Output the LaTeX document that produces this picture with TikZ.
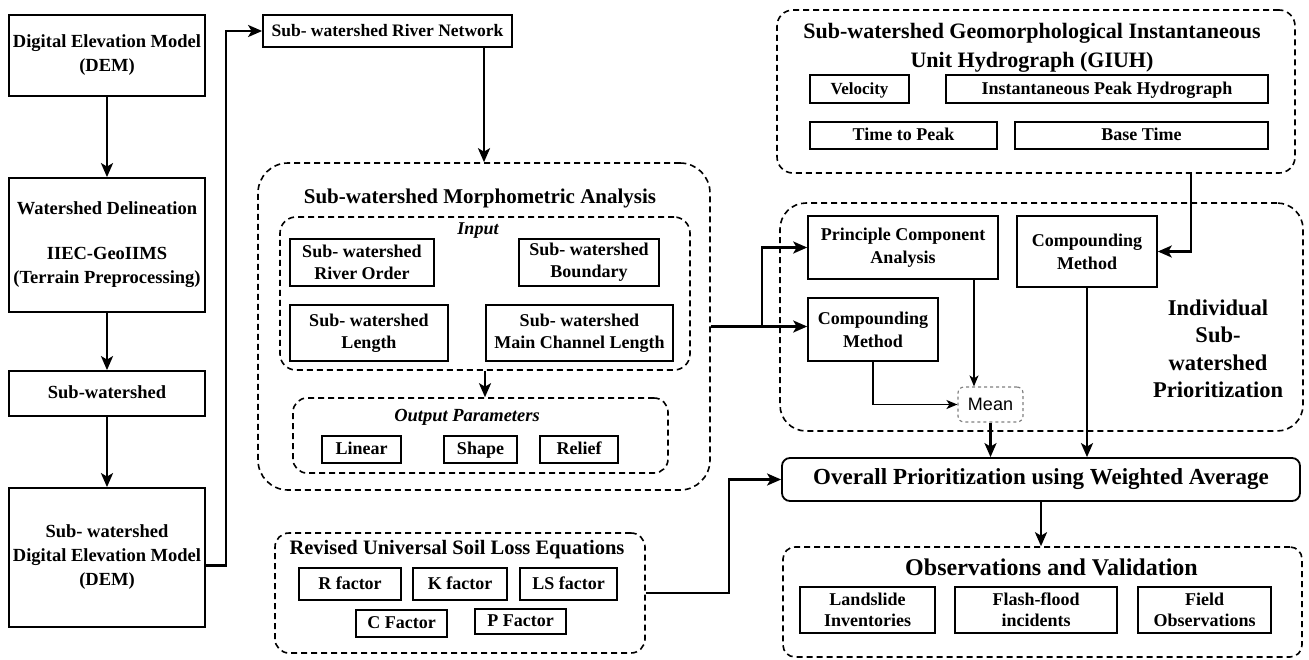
\documentclass[tikz,border=0pt]{standalone}
\usepackage{fontspec}
\setmainfont{Liberation Serif}
\newfontfamily\meanfont{Liberation Sans}
\usetikzlibrary{arrows.meta}
\usetikzlibrary{calc}

\begin{document}
\begin{tikzpicture}[x=1pt,y=-1pt,>={Stealth[length=14pt,width=12pt,inset=3.5pt]},
	box/.style={draw,line width=1.8pt,align=center,inner sep=0pt,font=\bfseries\fontsize{18.5}{24}\selectfont},
	small box/.style={draw,line width=1.3pt,align=center,inner sep=0pt,font=\bfseries\fontsize{18}{22}\selectfont},
	one line/.style={text height=13pt,text depth=3pt},
	group/.style={draw,line width=1.6pt,dash pattern=on 6pt off 4pt,rounded corners=#1,inner sep=0pt},
	group/.default=14pt,
	heading/.style={align=center,inner sep=0pt,font=\bfseries\fontsize{21}{27}\selectfont},
	flow/.style={->,line width=2.4pt},
	thin flow/.style={-{Stealth[length=11pt,width=9pt,inset=3pt]},line width=1.6pt}]

				\useasboundingbox (0,0) rectangle (1309,659);

				% left column
				\node[box,minimum width=196pt,minimum height=81pt] (dem) at (107,55.5) {Digital Elevation Model\\(DEM)};
				\node[box,minimum width=196pt,minimum height=134pt] (wsd) at (107,245) {Watershed Delineation\\[21pt]IIEC-GeoIIMS\\(Terrain Preprocessing)};
				\node[box,one line,minimum width=196pt,minimum height=45pt] (sub) at (107,393.5) {Sub-watershed};
				\node[box,minimum width=196pt,minimum height=139pt] (sdem) at (107,557.5) {Sub- watershed\\Digital Elevation Model\\(DEM)};
				\node[box,one line,minimum width=249pt,minimum height=32pt,font=\bfseries\fontsize{17.5}{21}\selectfont] (rn) at (387.5,31) {Sub- watershed River Network};

				% morphometric analysis
				\node[group=30pt,minimum width=452pt,minimum height=327pt] (morph) at (484,326.5) {};
				\node[heading] (morphT) at (480,198) {Sub-watershed Morphometric Analysis};
				\node[group=16pt,minimum width=410pt,minimum height=153pt] (inp) at (485,293.5) {};
				\node[heading,font=\bfseries\itshape\fontsize{18}{22}\selectfont] (inpT) at (478,231) {Input};
				\node[small box,minimum width=144pt,minimum height=47pt] (ro) at (362,262.5) {Sub- watershed\\River Order};
				\node[small box,minimum width=140pt,minimum height=47pt] (bd) at (589,262.5) {Sub- watershed\\Boundary};
				\node[small box,minimum width=158pt,minimum height=56pt] (len) at (369,333) {Sub- watershed\\Length};
				\node[small box,minimum width=187pt,minimum height=56pt] (mcl) at (579.5,333) {Sub- watershed\\Main Channel Length};
				\node[group=14pt,minimum width=375pt,minimum height=75pt] (outp) at (480.5,435.5) {};
				\node[heading,font=\bfseries\itshape\fontsize{18.5}{22}\selectfont] (outpT) at (467,417) {Output Parameters};
				\node[small box,one line,minimum width=79pt,minimum height=27pt] (lin) at (361.5,449.5) {Linear};
				\node[small box,one line,minimum width=73pt,minimum height=27pt] (shp) at (480.5,449.5) {Shape};
				\node[small box,one line,minimum width=78pt,minimum height=27pt] (rel) at (579,449.5) {Relief};

				% soil loss
				\node[group=14pt,minimum width=370pt,minimum height=120pt] (rusle) at (460,593) {};
				\node[heading,font=\bfseries\fontsize{20.5}{24}\selectfont] (rusleT) at (457,550) {Revised Universal Soil Loss Equations};
				\node[small box,one line,minimum width=102pt,minimum height=32pt] (rf) at (350,584) {R factor};
				\node[small box,one line,minimum width=94pt,minimum height=32pt] (kf) at (460,584) {K factor};
				\node[small box,one line,minimum width=97pt,minimum height=32pt] (lsf) at (568.5,584) {LS factor};
				\node[small box,one line,minimum width=91pt,minimum height=27pt] (cf) at (401.5,623.5) {C Factor};
				\node[small box,one line,minimum width=91pt,minimum height=25pt] (pf) at (520.5,621.5) {P Factor};

				% GIUH
				\node[group=16pt,minimum width=518pt,minimum height=163pt] (giuh) at (1036,91.5) {};
				\node[heading,font=\bfseries\fontsize{22}{29}\selectfont] (giuhT) at (1032,48) {Sub-watershed Geomorphological Instantaneous\\Unit Hydrograph (GIUH)};
				\node[small box,one line,minimum width=99pt,minimum height=28pt,font=\bfseries\fontsize{17}{20}\selectfont] (vel) at (859.5,89) {Velocity};
				\node[small box,one line,minimum width=322pt,minimum height=28pt] (iph) at (1107,89) {Instantaneous Peak Hydrograph};
				\node[small box,one line,minimum width=187pt,minimum height=27pt] (ttp) at (903.5,135.5) {Time to Peak};
				\node[small box,one line,minimum width=253pt,minimum height=27pt] (bt) at (1141.5,135.5) {Base Time};

				% prioritization
				\node[group=26pt,minimum width=523pt,minimum height=228pt] (prior) at (1041.5,317) {};
				\node[heading,font=\bfseries\fontsize{22.5}{27.5}\selectfont] (priorT) at (1218,349) {Individual\\Sub-\\watershed\\Prioritization};
				\node[box,line width=1.6pt,minimum width=190pt,minimum height=63pt,font=\bfseries\fontsize{18}{23}\selectfont] (pca) at (903,247.5) {Principle Component\\Analysis};
				\node[box,line width=1.6pt,minimum width=130pt,minimum height=63pt,font=\bfseries\fontsize{18}{23}\selectfont] (cm1) at (873,329.5) {Compounding\\Method};
				\node[box,line width=1.6pt,minimum width=140pt,minimum height=71pt,font=\bfseries\fontsize{18}{23}\selectfont] (cm2) at (1087,251.5) {Compounding\\Method};
				\node[draw=gray,line width=1.2pt,dashed,rounded corners=6pt,minimum width=65pt,minimum height=35pt,inner sep=0pt,font=\meanfont\fontsize{18}{20}\selectfont] (mean) at (990.5,404.5) {Mean};

				% overall and validation
				\node[box,one line,rounded corners=8pt,minimum width=518pt,minimum height=43pt,font=\bfseries\fontsize{23}{26}\selectfont] (overall) at (1041,479.5) {Overall Prioritization using Weighted Average};
				\node[group=12pt,minimum width=519pt,minimum height=110pt] (obs) at (1042.5,602) {};
				\node[heading,font=\bfseries\fontsize{24}{28}\selectfont] (obsT) at (1051.5,567) {Observations and Validation};
				\node[small box,minimum width=135pt,minimum height=46pt,font=\bfseries\fontsize{18}{21}\selectfont] (ls) at (867.5,610) {Landslide\\Inventories};
				\node[small box,minimum width=162pt,minimum height=46pt,font=\bfseries\fontsize{18}{21}\selectfont] (ff) at (1036,610) {Flash-flood\\incidents};
				\node[small box,minimum width=133pt,minimum height=46pt,font=\bfseries\fontsize{18}{21}\selectfont] (fo) at (1204.5,610) {Field\\Observations};

				% connectors
				\path[flow]
				(dem) edge (wsd)
				(wsd) edge (sub)
				(sub) edge (sdem);
				\draw[flow] ([yshift=-8pt]sdem.east) -- ++(20,0) |- (rn.west);
				\draw[flow] (rn.south -| morph.north) -- (morph.north);
				\draw[flow] (inp.south) -- (inp.south |- outp.north);
				\draw[flow] (morph.east) -- (morph.east -| cm1.west);
				\draw[flow] (morph.east) -- ++(51,0) |- (pca.west);
				\draw[flow] ([xshift=155pt]giuh.south) |- (cm2.east);
				\draw[thin flow] ([xshift=71pt]pca.south) -- ([xshift=71pt]pca.south |- mean.north);
				\draw[thin flow] (cm1.south) |- (mean.west);
				\draw[flow] (mean.south) -- (mean.south |- overall.north);
				\draw[flow] (cm2.south) -- (cm2.south |- overall.north);
				\draw[flow] (rusle.east) -- ++(83,0) |- (overall.west);
				\draw[flow] (overall.south) -- (overall.south |- obs.north);

\end{tikzpicture}
\end{document}
